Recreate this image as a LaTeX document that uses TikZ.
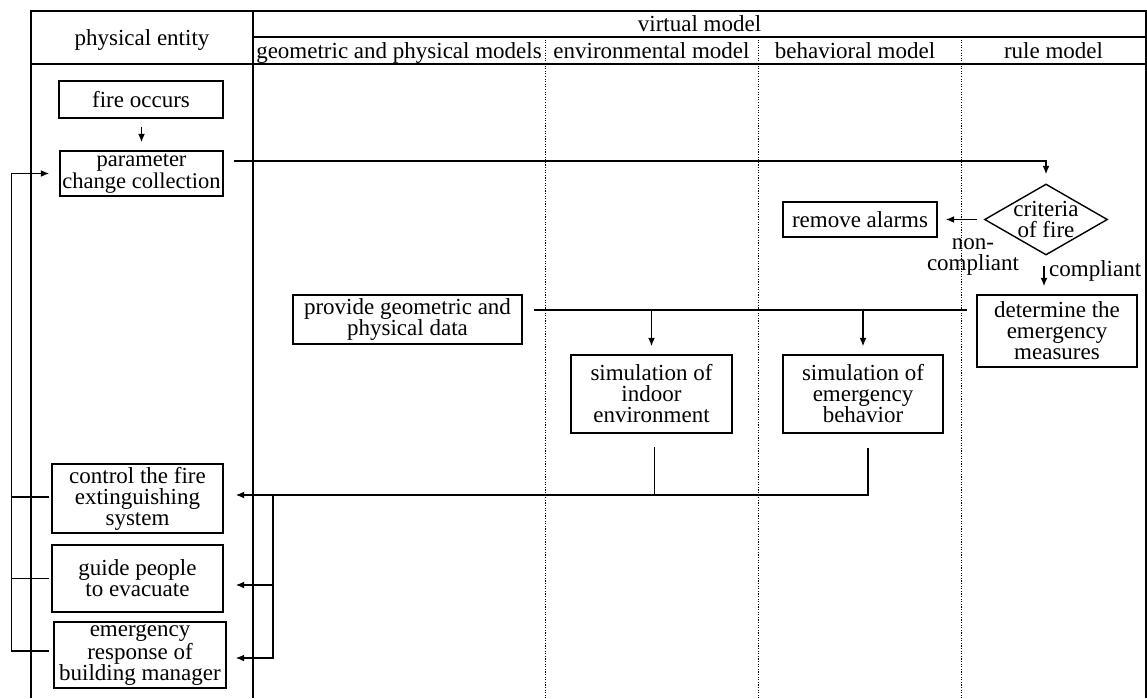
\documentclass[tikz,border=0pt]{standalone}
\usepackage{fontspec}
\setmainfont{Liberation Serif}
\usetikzlibrary{arrows.meta,shapes.geometric,calc}
\begin{document}
\begin{tikzpicture}[x=1pt,y=-1pt,
  every node/.style={font=\fontsize{23}{21}\selectfont},
  frame/.style={line width=1.4pt},
  lane/.style={line width=1pt,dash pattern=on 1.1pt off 1.5pt},
  box/.style={draw,line width=1.4pt,inner sep=0pt,align=center},
  wire/.style={line width=1.5pt},
  arr/.style={line width=1.5pt,-{Latex[length=8.5pt,width=7pt]}},
  head/.style={anchor=base,inner sep=0pt}]
\useasboundingbox (0,0) rectangle (1147,698);

% swimlane table
\draw[frame] (31,698) -- (31,11) -- (1146,11) -- (1146,698);
\draw[frame] (253,11) -- (253,698);
\draw[frame] (253,37) -- (1146,37);
\draw[frame] (31,64) -- (1146,64);
\foreach \x in {545,758,961} \draw[lane] (\x,37) -- (\x,698);

\node[head] (hphys) at (142,45.5) {physical entity};
\node[head] (hvirt) at (699.5,32) {virtual model};
\node[head] (hgeo) at (399,58.5) {geometric and physical models};
\node[head] (henv) at (651.5,58.5) {environmental model};
\node[head] (hbeh) at (855,58.5) {behavioral model};
\node[head] (hrule) at (1053.5,58.5) {rule model};

% physical entity lane
\node[box,minimum width=164pt,minimum height=37pt] (fire) at (141,99.5) {fire occurs};
\node[box,minimum width=163pt,minimum height=45pt,font=\fontsize{22.5}{20}\selectfont] (param) at (141.5,173.5) {parameter\\change collection};
\node[box,minimum width=171pt,minimum height=69pt] (control) at (137.5,498.5) {control the fire\\extinguishing\\system};
\node[box,minimum width=171pt,minimum height=67pt] (guide) at (137.5,578.5) {guide people\\to evacuate};
\node[box,minimum width=172pt,minimum height=66pt] (emerg) at (140,655) {emergency\\response of\\building manager};

% virtual model lanes
\node[box,minimum width=229pt,minimum height=49pt] (provide) at (407.5,319.5) {provide geometric and\\physical data};
\node[box,minimum width=161pt,minimum height=78pt] (simind) at (651.5,394) {simulation of\\indoor\\environment};
\node[box,minimum width=160pt,minimum height=78pt] (simbeh) at (863,394) {simulation of\\emergency\\behavior};
\node[box,minimum width=154pt,minimum height=35pt] (remove) at (860,219.5) {remove alarms};
\node[draw,diamond,line width=1.4pt,minimum width=123pt,minimum height=71pt,inner sep=0pt] (dia) at (1046,219.5) {};
\node[align=center,inner sep=0pt] (diatext) at (dia.center) {criteria\\of fire};
\node[box,minimum width=160pt,minimum height=72pt] (determine) at (1057,331) {determine the\\emergency\\measures};

% decision flow
\draw[arr,shorten <=8pt,shorten >=8pt] (fire.south -| param.north) -- (param.north);
\draw[arr] ($(param.east)+(10,-12.5)$) -| ($(dia.north)+(0,-9)$);
\draw[arr,shorten <=7pt,shorten >=8pt] (dia.west) -- (remove.east);
\draw[arr,shorten <=10pt,shorten >=8pt] ($(dia.south)+(-2,0)$) -- ($(dia.south |- determine.north)+(-2,0)$);
\node[align=center,inner sep=0pt] (lnon) at (973,257) {non-\\compliant};
\node[anchor=west,inner sep=0pt] (lcomp) at (1049,271) {compliant};

% data bus to the simulations
\coordinate (busL) at ($(provide.east)+(11,-9.5)$);
\coordinate (busR) at ($(determine.west |- busL)+(-9,0)$);
\draw[wire] (busL) -- (busR);
\draw[arr] (simind.north |- busL) -- ($(simind.north)+(0,-8)$);
\draw[arr] (simbeh.north |- busL) -- ($(simbeh.north)+(0,-8)$);

% simulation results back to the physical entity
\coordinate (busB) at (0,495);
\coordinate (br) at (273,495);
\draw[wire] ($(simind.south)+(3,13)$) -- ($(simind.south |- busB)+(3,0)$);
\draw[arr] ($(simbeh.south)+(5,14)$) -- ($(simbeh.south |- busB)+(5,0)$) -- ($(control.east |- busB)+(12,0)$);
\draw[arr] (br) |- ($(guide.east)+(12,6.5)$);
\draw[arr] (br) |- ($(emerg.east)+(9,3)$);

% feedback loop
\coordinate (loopTop) at ($(param.west)+(-48,0)$);
\draw[arr] ($(emerg.west)+(-4,-4)$) -| (loopTop) -- ($(param.west)+(-10,0)$);
\draw[wire] ($(control.west)+(-2,-1.5)$) -- ($(control.west -| loopTop)+(0,-1.5)$);
\draw[wire] ($(guide.west)+(-2,0)$) -- (guide.west -| loopTop);
\end{tikzpicture}
\end{document}
